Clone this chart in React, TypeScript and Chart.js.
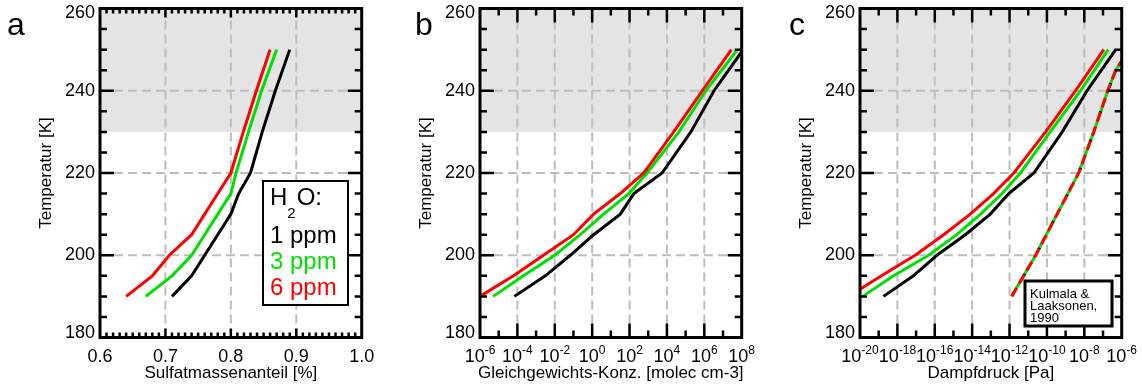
import React, { useEffect, useRef } from "react";
import { Chart, registerables } from "chart.js";

Chart.register(...registerables);

const FONT = "'Liberation Sans', Arial, Helvetica, sans-serif";

// ---------- data ----------
const temperatures = [190, 195, 200, 205, 210, 215, 220, 230, 240, 250];

// panel a: Sulfatmassenanteil
const fraction1ppm = [0.71, 0.74, 0.76, 0.78, 0.8, 0.812, 0.83, 0.848, 0.868, 0.89];
const fraction3ppm = [0.67, 0.71, 0.74, 0.76, 0.78, 0.8, 0.808, 0.827, 0.847, 0.87];
const fraction6ppm = [0.64, 0.68, 0.706, 0.74, 0.76, 0.78, 0.8, 0.819, 0.839, 0.86];

// panel b: Gleichgewichts-Konzentration [molec cm-3]
const conc1ppm = [6.9e-5, 3.1e-3, 6.8e-2, 1.2, 32, 170, 5.5e3, 1.9e5, 3.3e6, 1.2e8];
const conc3ppm = [5.1e-6, 2.1e-4, 1.0e-2, 0.23, 4.1, 91, 870, 4.4e4, 1.2e6, 5.9e7];
const conc6ppm = [1.0e-6, 6.2e-5, 2.5e-3, 0.1, 1.2, 32, 580, 2.3e4, 7.8e5, 2.8e7];

// panel c: Dampfdruck [Pa]
const pressure1ppm = [1.8e-19, 7.2e-18, 1.3e-16, 4.3e-15, 9.3e-14, 9.1e-13, 2.0e-11, 6.6e-10, 1.4e-8, 4.8e-7];
const pressure3ppm = [1.4e-20, 6.2e-19, 4.7e-17, 1.5e-15, 2.8e-14, 4.0e-13, 3.8e-12, 1.5e-10, 6.3e-9, 1.9e-7];
const pressure6ppm = [2.5e-21, 1.4e-19, 8.9e-18, 3.0e-16, 7.9e-15, 1.4e-13, 1.7e-12, 8.5e-11, 3.4e-9, 1.1e-7];
const kulmalaTemps = [190, 200, 210, 220, 230, 240, 245, 250];
const kulmalaPressure = [1.3e-12, 2.5e-11, 3.5e-10, 5.0e-9, 3.2e-8, 1.8e-7, 4.8e-7, 2.5e-6];

// tick labels
const temperatureTicks = [180, 200, 220, 240, 260];
const fractionTicks = [0.6, 0.7, 0.8, 0.9, 1.0];
const concTickExponents = [-6, -4, -2, 0, 2, 4, 6, 8];
const pressureTickExponents = [-20, -18, -16, -14, -12, -10, -8, -6];

const legendLabels = ["1 ppm", "3 ppm", "6 ppm"];
const kulmalaLabel = ["Kulmala &", "Laaksonen,", "1990"];

const RED = "#ff0000";
const GREEN = "#00e000";
const BLACK = "#000000";
const GRID = "#bdbdbd";
const BAND = "#e4e4e4";

const pts = (xs: number[], ys: number[]) => xs.map((x, i) => ({ x, y: ys[i] }));
const curve = (data: any[], color: string, extra: any = {}) => ({
  data,
  borderColor: color,
  backgroundColor: color,
  borderWidth: 3,
  pointRadius: 0,
  fill: false,
  tension: 0,
  ...extra,
});

type Panel = {
  key: string;
  letter: string;
  letterX: number;
  left: number;
  width: number;
  padRight: number;
  xType: "linear" | "logarithmic";
  xMin: number;
  xMax: number;
  xLabelValues: number[];
  xLabelText: string[];
  logLabels: boolean;
  xMinor: number[];
  xMajorLen: number;
  xMinorLen: number;
  xTitle: string;
  datasets: any[];
  extra?: (ctx: CanvasRenderingContext2D) => void;
};

const minorFraction: number[] = [];
for (let i = 61; i < 100; i++) if (i % 10 !== 0) minorFraction.push(i / 100);
const minorConc: number[] = [];
for (let e = -5; e <= 7; e += 2) minorConc.push(Math.pow(10, e));
const minorPressure: number[] = [];
for (let e = -19; e <= -7; e += 2) minorPressure.push(Math.pow(10, e));

function drawLegendA(ctx: CanvasRenderingContext2D) {
  ctx.save();
  ctx.fillStyle = "#ffffff";
  ctx.fillRect(263, 181, 85, 124);
  ctx.strokeStyle = BLACK;
  ctx.lineWidth = 2;
  ctx.setLineDash([]);
  ctx.strokeRect(263, 181, 85, 124);
  ctx.textAlign = "left";
  ctx.textBaseline = "alphabetic";
  ctx.fillStyle = BLACK;
  ctx.font = `24px ${FONT}`;
  ctx.fillText("H", 270, 205);
  const wH = ctx.measureText("H").width;
  ctx.font = `15px ${FONT}`;
  ctx.fillText("2", 270 + wH, 218);
  const w2 = ctx.measureText("2").width;
  ctx.font = `24px ${FONT}`;
  ctx.fillText("O:", 270 + wH + w2 + 1, 205);
  const colors = [BLACK, GREEN, RED];
  const baselines = [243, 269, 295];
  legendLabels.forEach((t, i) => {
    ctx.fillStyle = colors[i];
    ctx.fillText(t, 270, baselines[i]);
  });
  ctx.restore();
}

function drawLegendC(ctx: CanvasRenderingContext2D) {
  ctx.save();
  ctx.fillStyle = "#ffffff";
  ctx.fillRect(265, 281, 87, 45);
  ctx.strokeStyle = BLACK;
  ctx.lineWidth = 3;
  ctx.setLineDash([]);
  ctx.strokeRect(265, 281, 87, 45);
  ctx.fillStyle = BLACK;
  ctx.font = `13px ${FONT}`;
  ctx.textAlign = "left";
  ctx.textBaseline = "alphabetic";
  const baselines = [298, 310, 322];
  kulmalaLabel.forEach((t, i) => ctx.fillText(t, 270, baselines[i]));
  ctx.restore();
}

const panels: Panel[] = [
  {
    key: "a",
    letter: "a",
    letterX: 7,
    left: 0,
    width: 380,
    padRight: 18.3,
    xType: "linear",
    xMin: 0.6,
    xMax: 1.0,
    xLabelValues: fractionTicks,
    xLabelText: fractionTicks.map((v) => v.toFixed(1)),
    logLabels: false,
    xMinor: minorFraction,
    xMajorLen: 9,
    xMinorLen: 5,
    xTitle: "Sulfatmassenanteil [%]",
    datasets: [
      curve(pts(fraction6ppm, temperatures), RED),
      curve(pts(fraction3ppm, temperatures), GREEN),
      curve(pts(fraction1ppm, temperatures), BLACK),
    ],
    extra: drawLegendA,
  },
  {
    key: "b",
    letter: "b",
    letterX: 35,
    left: 380,
    width: 380,
    padRight: 18.3,
    xType: "logarithmic",
    xMin: 1e-6,
    xMax: 1e8,
    xLabelValues: concTickExponents.map((e) => Math.pow(10, e)),
    xLabelText: concTickExponents.map((e) => String(e)),
    logLabels: true,
    xMinor: minorConc,
    xMajorLen: 14,
    xMinorLen: 7,
    xTitle: "Gleichgewichts-Konz. [molec cm-3]",
    datasets: [
      curve(pts(conc6ppm, temperatures), RED),
      curve(pts(conc3ppm, temperatures), GREEN),
      curve(pts(conc1ppm, temperatures), BLACK),
    ],
  },
  {
    key: "c",
    letter: "c",
    letterX: 29,
    left: 760,
    width: 382,
    padRight: 20.3,
    xType: "logarithmic",
    xMin: 1e-20,
    xMax: 1e-6,
    xLabelValues: pressureTickExponents.map((e) => Math.pow(10, e)),
    xLabelText: pressureTickExponents.map((e) => String(e)),
    logLabels: true,
    xMinor: minorPressure,
    xMajorLen: 14,
    xMinorLen: 7,
    xTitle: "Dampfdruck [Pa]",
    datasets: [
      curve(pts(kulmalaPressure, kulmalaTemps), RED, { borderDash: [10, 5] }),
      curve(pts(kulmalaPressure, kulmalaTemps), BLACK, { borderDash: [2, 28], borderDashOffset: 6 }),
      curve(pts(kulmalaPressure, kulmalaTemps), GREEN),
      curve(pts(pressure6ppm, temperatures), RED),
      curve(pts(pressure3ppm, temperatures), GREEN),
      curve(pts(pressure1ppm, temperatures), BLACK),
    ],
    extra: drawLegendC,
  },
];

function makeDecor(panel: Panel) {
  return {
    id: "decor" + panel.key,
    beforeDatasetsDraw(chart: any) {
      const { ctx, chartArea: a } = chart;
      const x = chart.scales.x;
      const y = chart.scales.y;
      ctx.save();
      const yTop = y.getPixelForValue(260);
      const yBand = y.getPixelForValue(230);
      ctx.fillStyle = BAND;
      ctx.fillRect(a.left, yTop, a.right - a.left, yBand - yTop);
      ctx.strokeStyle = GRID;
      ctx.lineWidth = 2;
      ctx.setLineDash([9, 5]);
      panel.xLabelValues.slice(1, -1).forEach((v) => {
        const px = x.getPixelForValue(v);
        ctx.beginPath();
        ctx.moveTo(px, a.bottom);
        ctx.lineTo(px, a.top);
        ctx.stroke();
      });
      temperatureTicks.slice(1, -1).forEach((t) => {
        const py = y.getPixelForValue(t);
        ctx.beginPath();
        ctx.moveTo(a.left, py);
        ctx.lineTo(a.right, py);
        ctx.stroke();
      });
      ctx.restore();
    },
    afterDatasetsDraw(chart: any) {
      const { ctx, chartArea: a } = chart;
      const x = chart.scales.x;
      const y = chart.scales.y;
      ctx.save();
      ctx.setLineDash([]);
      ctx.strokeStyle = BLACK;
      ctx.lineWidth = 2.5;
      // y ticks (inward, both sides)
      for (let t = 185; t < 260; t += 5) {
        const py = y.getPixelForValue(t);
        const len = t % 20 === 0 ? 14 : 7;
        ctx.beginPath();
        ctx.moveTo(a.left, py);
        ctx.lineTo(a.left + len, py);
        ctx.moveTo(a.right, py);
        ctx.lineTo(a.right - len, py);
        ctx.stroke();
      }
      // x ticks (inward, top and bottom)
      const xt = (v: number, len: number) => {
        const px = x.getPixelForValue(v);
        ctx.beginPath();
        ctx.moveTo(px, a.bottom);
        ctx.lineTo(px, a.bottom - len);
        ctx.moveTo(px, a.top);
        ctx.lineTo(px, a.top + len);
        ctx.stroke();
      };
      panel.xMinor.forEach((v) => xt(v, panel.xMinorLen));
      panel.xLabelValues.slice(1, -1).forEach((v) => xt(v, panel.xMajorLen));
      // frame
      ctx.lineWidth = 3;
      ctx.strokeRect(a.left, a.top, a.right - a.left, a.bottom - a.top);

      // extra (legend boxes)
      if (panel.extra) panel.extra(ctx);

      // y tick labels
      ctx.fillStyle = BLACK;
      ctx.font = `18px ${FONT}`;
      ctx.textAlign = "right";
      ctx.textBaseline = "middle";
      temperatureTicks.forEach((t) => {
        let py = y.getPixelForValue(t);
        py = Math.min(Math.max(py, a.top + 5), a.bottom - 4);
        ctx.fillText(String(t), a.left - 5, py);
      });
      // x tick labels
      ctx.textBaseline = "alphabetic";
      panel.xLabelValues.forEach((v, i) => {
        const px = x.getPixelForValue(v);
        if (!panel.logLabels) {
          ctx.font = `18px ${FONT}`;
          ctx.textAlign = "center";
          ctx.fillText(panel.xLabelText[i], px, 362);
        } else {
          const exp = panel.xLabelText[i];
          ctx.font = `18px ${FONT}`;
          const wb = ctx.measureText("10").width;
          ctx.font = `12px ${FONT}`;
          const we = ctx.measureText(exp).width;
          const x0 = px - (wb + we) / 2;
          ctx.textAlign = "left";
          ctx.font = `18px ${FONT}`;
          ctx.fillText("10", x0, 362);
          ctx.font = `12px ${FONT}`;
          ctx.fillText(exp, x0 + wb, 354);
        }
      });
      // axis titles
      ctx.font = `17px ${FONT}`;
      ctx.textAlign = "center";
      ctx.fillText(panel.xTitle, (a.left + a.right) / 2, 378);
      ctx.save();
      ctx.translate(50.5, (a.top + a.bottom) / 2);
      ctx.rotate(-Math.PI / 2);
      ctx.fillText("Temperatur [K]", 0, 0);
      ctx.restore();
      // panel letter
      ctx.font = `32px ${FONT}`;
      ctx.textAlign = "left";
      ctx.fillText(panel.letter, panel.letterX, 35);
      ctx.restore();
    },
  };
}

function PanelChart({ panel }: { panel: Panel }) {
  const ref = useRef<HTMLCanvasElement>(null);
  useEffect(() => {
    const canvas = ref.current;
    if (!canvas) return;
    const chart = new Chart(canvas, {
      type: "line",
      data: { datasets: panel.datasets },
      options: {
        animation: false,
        responsive: false,
        maintainAspectRatio: false,
        layout: { padding: { left: 100, right: panel.padRight, top: 8.5, bottom: 47.5 } },
        plugins: { legend: { display: false }, tooltip: { enabled: false } },
        scales: {
          x: { type: panel.xType, min: panel.xMin, max: panel.xMax, display: false },
          y: { type: "linear", min: 180, max: 260, display: false },
        },
      } as any,
      plugins: [makeDecor(panel)],
    });
    return () => chart.destroy();
  }, [panel]);
  return (
    <canvas
      ref={ref}
      width={panel.width}
      height={385}
      style={{ position: "absolute", left: panel.left, top: 0, width: panel.width, height: 385 }}
    />
  );
}

export default function App() {
  return (
    <div style={{ position: "absolute", left: 0, top: 0, width: 1142, height: 385, background: "#fff" }}>
      {panels.map((p) => (
        <PanelChart key={p.key} panel={p} />
      ))}
    </div>
  );
}
